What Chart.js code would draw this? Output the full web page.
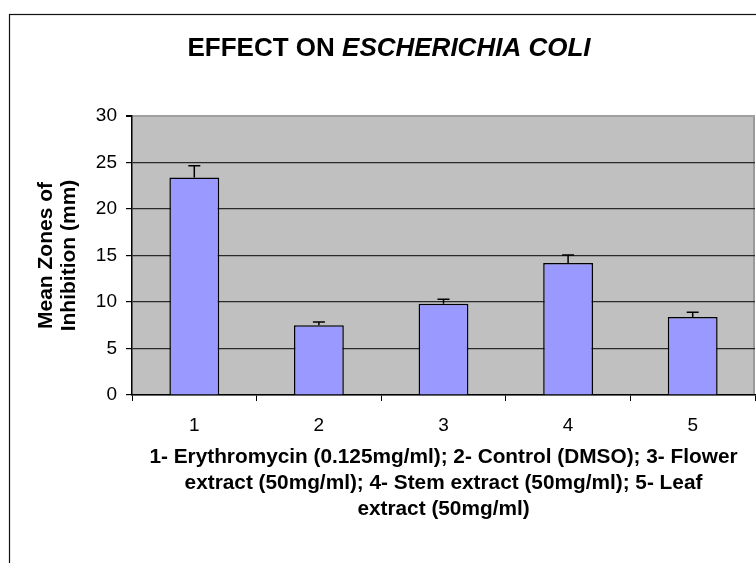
<!DOCTYPE html>
<html>
<head>
<meta charset="utf-8">
<script src="https://cdn.jsdelivr.net/npm/chart.js@4.4.1/dist/chart.umd.min.js"></script>
<style>
  html, body { margin: 0; padding: 0; background: #fff; }
  #wrap { width: 756px; height: 563px; }
</style>
</head>
<body>
<div id="wrap"><canvas id="chart" width="756" height="563"></canvas></div>
<script>
const categories = ['1', '2', '3', '4', '5'];
const meanZones = [23.4, 7.5, 9.8, 14.2, 8.4];
const errors = [1.25, 0.35, 0.5, 0.85, 0.5];
const yTicks = [0, 5, 10, 15, 20, 25, 30];
const titleParts = [
    { text: 'EFFECT ON ', italic: false },
    { text: 'ESCHERICHIA COLI', italic: true },
];
const xTitle = [
    '1- Erythromycin (0.125mg/ml); 2- Control (DMSO); 3- Flower',
    'extract (50mg/ml); 4- Stem extract (50mg/ml); 5- Leaf',
    'extract (50mg/ml)',
];
const yTitle = ['Mean Zones of', 'Inhibition (mm)'];

const fontFamily = '"Liberation Sans", Arial, sans-serif';

// frame round the chart and grey plot area
const backdrop = {
    id: 'backdrop',
    beforeDraw(chart) {
        const ctx = chart.ctx;
        const a = chart.chartArea;
        ctx.save();
        ctx.strokeStyle = '#111';
        ctx.lineWidth = 1.2;
        ctx.strokeRect(9.5, 14.5, 800, 600);
        ctx.fillStyle = '#c0c0c0';
        ctx.fillRect(a.left, a.top, a.right - a.left, a.bottom - a.top);
        ctx.strokeStyle = '#9a9a9a';
        ctx.lineWidth = 2;
        ctx.beginPath();
        ctx.moveTo(a.right - 1, a.top);
        ctx.lineTo(a.right - 1, a.bottom);
        ctx.stroke();
        ctx.restore();
    },
};

// plus-direction error bars
const errorBars = {
    id: 'errorBars',
    afterDatasetsDraw(chart) {
        const ctx = chart.ctx;
        const meta = chart.getDatasetMeta(0);
        const y = chart.scales.y;
        ctx.save();
        ctx.strokeStyle = '#000';
        ctx.lineWidth = 1.5;
        meta.data.forEach((bar, i) => {
            const top = y.getPixelForValue(meanZones[i] + errors[i]);
            const base = y.getPixelForValue(meanZones[i]);
            ctx.beginPath();
            ctx.moveTo(bar.x, base);
            ctx.lineTo(bar.x, top);
            ctx.moveTo(bar.x - 6, top);
            ctx.lineTo(bar.x + 6, top);
            ctx.stroke();
        });
        ctx.restore();
    },
};

// title with italic species name
const mixedTitle = {
    id: 'mixedTitle',
    afterDraw(chart) {
        const ctx = chart.ctx;
        ctx.save();
        ctx.fillStyle = '#000';
        ctx.textBaseline = 'middle';
        const fonts = titleParts.map(p => (p.italic ? 'italic ' : '') + 'bold 26px ' + fontFamily);
        let total = 0;
        const widths = titleParts.map((p, i) => {
            ctx.font = fonts[i];
            const w = ctx.measureText(p.text).width;
            total += w;
            return w;
        });
        let x = 389 - total / 2;
        titleParts.forEach((p, i) => {
            ctx.font = fonts[i];
            ctx.textAlign = 'left';
            ctx.fillText(p.text, x, 49);
            x += widths[i];
        });
        ctx.restore();
    },
};

new Chart(document.getElementById('chart'), {
    type: 'bar',
    data: {
        labels: categories,
        datasets: [{
            data: meanZones,
            backgroundColor: '#9999ff',
            borderColor: '#000',
            borderWidth: 1.5,
            borderSkipped: 'bottom',
            barPercentage: 0.4,
            categoryPercentage: 1.0,
        }],
    },
    options: {
        responsive: false,
        animation: false,
        layout: { padding: { top: 116, right: 1, left: 0, bottom: 0 } },
        plugins: {
            legend: { display: false },
            title: { display: false },
            tooltip: { enabled: false },
        },
        scales: {
            x: {
                offset: true,
                afterFit: (scale) => { scale.height = 168; },
                grid: {
                    offset: true,
                    drawOnChartArea: false,
                    drawTicks: true,
                    tickLength: 6,
                    tickColor: '#000',
                },
                border: { color: '#000', width: 1.5 },
                ticks: {
                    color: '#000',
                    padding: 13,
                    font: { family: fontFamily, size: 19 },
                },
                title: {
                    display: true,
                    text: xTitle,
                    color: '#000',
                    font: { family: fontFamily, size: 20.8, weight: 'bold', lineHeight: 1.25 },
                    padding: { top: 0, bottom: 41 },
                },
            },
            y: {
                min: 0,
                max: 30,
                afterFit: (scale) => { scale.width = 132; },
                afterBuildTicks: (scale) => { scale.ticks = yTicks.map(v => ({ value: v })); },
                grid: {
                    color: (c) => (c.tick && c.tick.value === 30 ? '#a0a0a0' : '#2a2a2a'),
                    lineWidth: (c) => (c.tick && c.tick.value === 30 ? 2 : 1.2),
                    tickLength: 6,
                    tickColor: '#000',
                },
                border: { color: '#000', width: 1.5 },
                ticks: {
                    color: '#000',
                    padding: 9,
                    font: { family: fontFamily, size: 19 },
                },
                title: {
                    display: true,
                    text: yTitle,
                    color: '#000',
                    font: { family: fontFamily, size: 21, weight: 'bold', lineHeight: 1.1 },
                    padding: { top: 35, bottom: 0 },
                },
            },
        },
    },
    plugins: [backdrop, errorBars, mixedTitle],
});
</script>
</body>
</html>
